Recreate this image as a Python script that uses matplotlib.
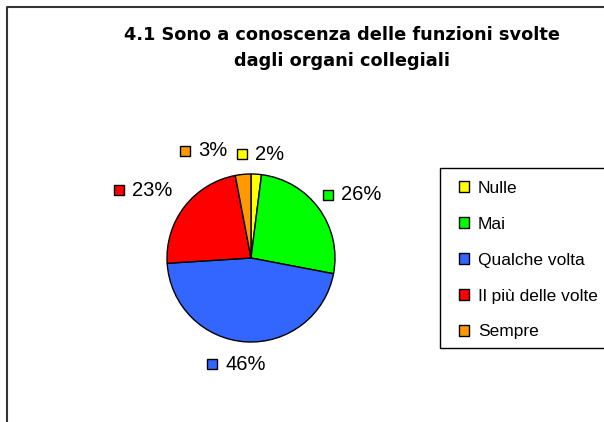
import matplotlib
matplotlib.use("agg")
import matplotlib.pyplot as plt
from matplotlib.patches import Patch, Rectangle

# data
categories = ["Nulle", "Mai", "Qualche volta", "Il più delle volte", "Sempre"]
values = [2, 26, 46, 23, 3]
colors = ["#FFFF00", "#00FF00", "#3366FF", "#FF0000", "#FF9900"]
title = "4.1 Sono a conoscenza delle funzioni svolte\ndagli organi collegiali"

W, H = 604, 422
fig = plt.figure(figsize=(W / 100, H / 100), dpi=100)
ax = fig.add_axes([0, 0, 1, 1])

# outer frame (top and left only visible)
ax.plot([7, 7, W + 5], [-5, H - 7, H - 7], color="#333333", lw=1.5, solid_capstyle="butt")

cx, cy, r = 251, H - 258, 84
wedges, _ = ax.pie(values, colors=colors, startangle=90, counterclock=False,
                   center=(cx, cy), radius=r, frame=True,
                   wedgeprops=dict(edgecolor="black", linewidth=1.0))
ax.set_xlim(0, W)
ax.set_ylim(0, H)
ax.axis("off")

# label positions (square centre x, centre y) in pixel coords
label_pos = [(242, 154), (328, 195), (212, 364), (119, 190), (185, 151)]
for (lx, ly), v, c in zip(label_pos, values, colors):
    ax.plot(lx, H - ly, marker="s", ms=7.5, mfc=c, mec="black", mew=1.0)
    ax.text(lx + 13, H - ly, f"{v}%", fontsize=14.5, family="Liberation Sans",
            va="center", ha="left")

ax.text(342, H - 48, title, ha="center", va="center", fontsize=12.8,
        fontweight="bold", family="DejaVu Sans", linespacing=1.5)

# legend frame runs off the right edge
ax.add_patch(Rectangle((440, H - 348), 200, 180, facecolor="white",
                       edgecolor="black", linewidth=1.0, zorder=3))
handles = [Patch(facecolor=c, edgecolor="black", linewidth=1.0) for c in colors]
leg = ax.legend(handles, categories, loc="upper left",
                bbox_to_anchor=(459 / W, 1 - 181 / H), bbox_transform=fig.transFigure,
                frameon=False, prop={"family": "Liberation Sans", "size": 12.5},
                handlelength=0.6, handleheight=0.6, handletextpad=0.5,
                labelspacing=1.2, borderpad=0, borderaxespad=0)
leg.set_zorder(4)

fig.savefig("out.png", dpi=100)
